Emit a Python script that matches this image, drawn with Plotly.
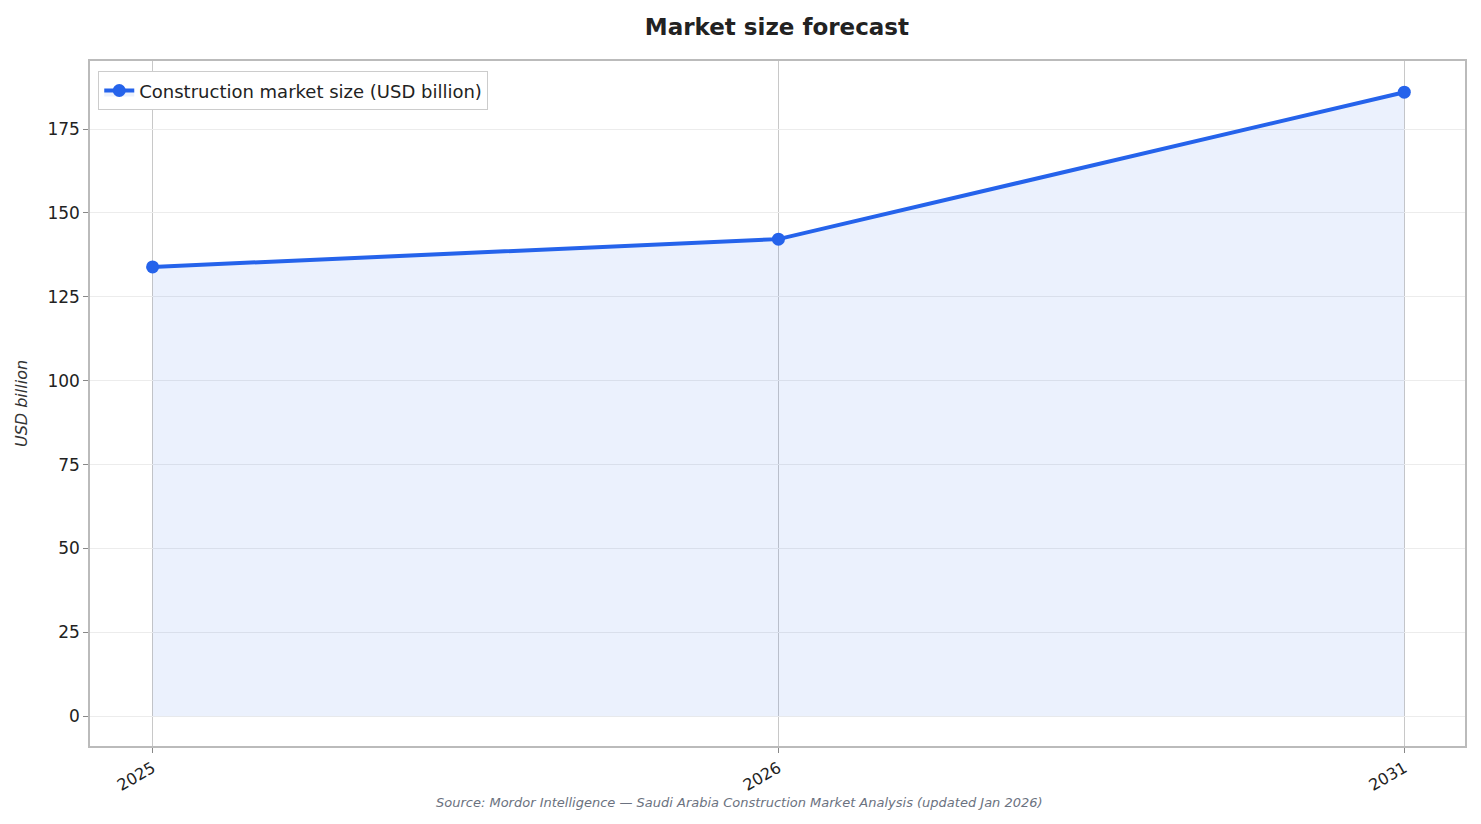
import plotly.graph_objects as go

years = ["2025", "2026", "2031"]
market_size = [133.9, 142.2, 186.0]

fig = go.Figure()
fig.add_trace(go.Scatter(
    x=years, y=market_size, mode="lines+markers",
    name="Construction market size (USD billion)",
    line=dict(color="#2563eb", width=4),
    marker=dict(size=13, color="#2563eb"),
    fill="tozeroy", fillcolor="rgba(37,99,235,0.09)",
))

# page body has an 8px margin, so the figure is sized/offset to compensate
fig.update_layout(
    width=1473, height=816,
    font=dict(family="DejaVu Sans", size=17, color="#222"),
    title=dict(text="<b>Market size forecast</b>", x=0.522, y=0.977, xanchor="center",
               yanchor="middle", font=dict(size=23, color="#222")),
    plot_bgcolor="white", paper_bgcolor="white",
    margin=dict(l=80, r=16, t=53, b=78),
    showlegend=True,
    legend=dict(x=0.006, y=0.985, xanchor="left", yanchor="top",
                bordercolor="#ccc", borderwidth=1, font=dict(size=18)),
)
fig.update_xaxes(type="category", range=[-0.1, 2.097], showgrid=True, gridcolor="#c8c8c8",
                 tickangle=-30, ticks="outside", ticklen=5, tickcolor="#888",
                 showline=True, linecolor="#bbb", linewidth=1.5, mirror=True,
                 tickfont=dict(size=16))
fig.update_yaxes(range=[-8.9, 195.3], tickvals=[0, 25, 50, 75, 100, 125, 150, 175],
                 showgrid=True, gridcolor="#ececec", zeroline=False,
                 ticks="outside", ticklen=5, tickcolor="#888",
                 showline=True, linecolor="#bbb", linewidth=1.5, mirror=True,
                 tickfont=dict(size=17),
                 title=dict(text="<i>USD billion</i>", font=dict(size=16, color="#333"), standoff=16))
fig.add_annotation(text="<i>Source: Mordor Intelligence — Saudi Arabia Construction Market Analysis (updated Jan 2026)</i>",
                   xref="paper", yref="paper", x=0.472, y=-0.069, showarrow=False,
                   font=dict(size=13, color="#6b7280"), xanchor="center", yanchor="top")

fig.write_html("out.html")
